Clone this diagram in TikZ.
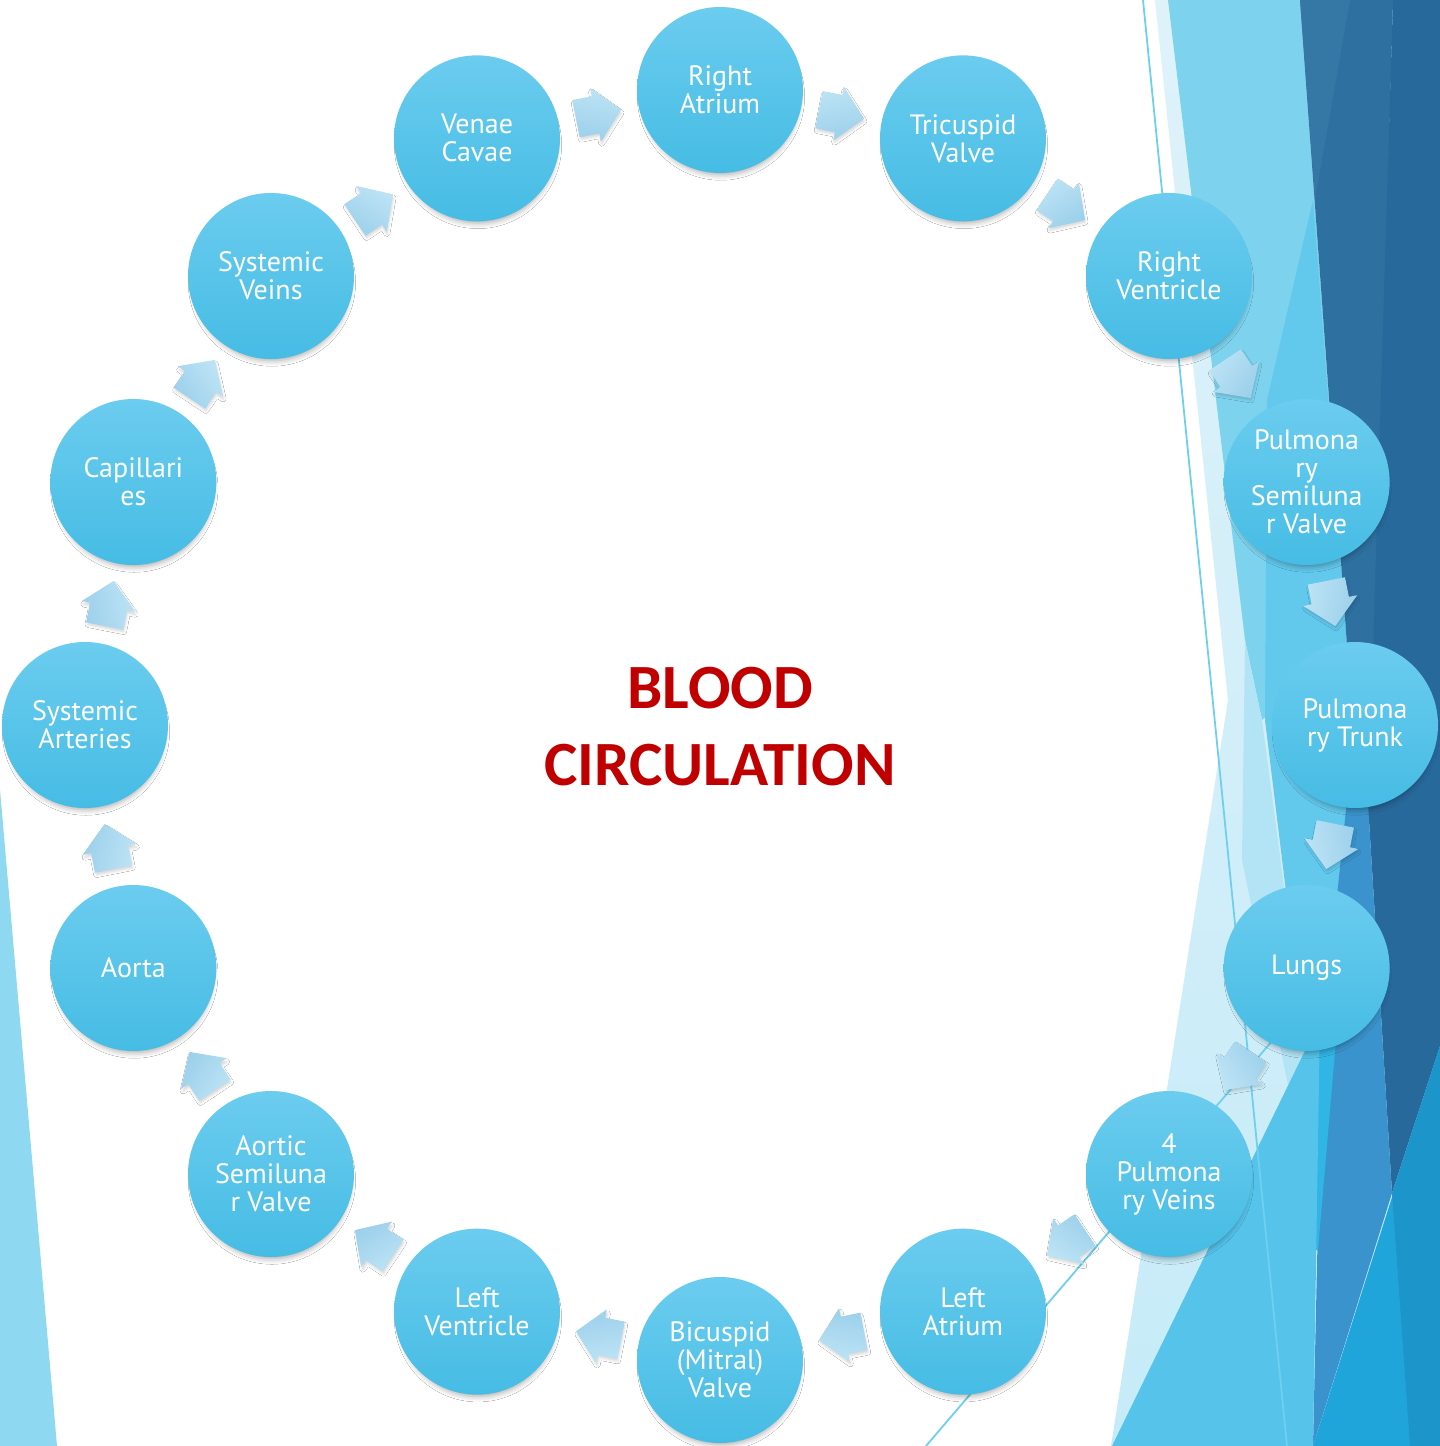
\documentclass[tikz,border=0pt]{standalone}
\usepackage{fontspec}
\setmainfont{PT Sans}
\newfontfamily\titlefont{Carlito}
\usetikzlibrary{calc,shadows.blur}

\definecolor{nodeTop}{HTML}{6BCCEF}
\definecolor{nodeBot}{HTML}{46BCE4}
\definecolor{arrTop}{HTML}{BDE3F5}
\definecolor{arrBot}{HTML}{9CD0EB}
\definecolor{titleRed}{HTML}{C00000}
\definecolor{bgVpale}{HTML}{DEF2FA}
\definecolor{bgPale}{HTML}{C6EBF8}
\definecolor{bgPaleB}{HTML}{B2E4F5}
\definecolor{bgLight}{HTML}{7DD3EE}
\definecolor{bgMid}{HTML}{62C8EC}
\definecolor{bgMidB}{HTML}{55C3EA}
\definecolor{bgCyan}{HTML}{30B5E4}
\definecolor{bgDark}{HTML}{28699C}
\definecolor{bgSteelA}{HTML}{3578A5}
\definecolor{bgSteelB}{HTML}{2E71A0}
\definecolor{bgMed}{HTML}{3A93CC}
\definecolor{bgBright}{HTML}{20A5DB}
\definecolor{bgBrightB}{HTML}{1C96CA}
\definecolor{bgLine}{HTML}{6FCFEF}
\definecolor{bgLeft}{HTML}{8FD8F2}

\begin{document}
\begin{tikzpicture}[x=0.5pt,y=-0.5pt,
  stage/.style={circle, minimum size=83pt, inner sep=0pt, draw=none,
    top color=nodeTop, bottom color=nodeBot, text=white, align=center,
    font=\fontsize{14}{14}\selectfont,
    blur shadow={shadow xshift=0.5pt, shadow yshift=-3.5pt, shadow scale=0.94, shadow blur radius=3pt, shadow opacity=35}},
  flow/.style={top color=arrTop, bottom color=arrBot, draw=none},
  heading/.style={font=\titlefont\bfseries\fontsize{31.5}{38}\selectfont, text=titleRed, anchor=base, inner sep=0pt},
  thinline/.style={draw=bgLine, line width=0.9pt}
]
\useasboundingbox (0,0) rectangle (1440,1446);
\fill[white] (0,0) rectangle (1440,1446);

% ---- background decoration ----
\fill[bgLeft] (0,790) -- (57,1446) -- (0,1446) -- cycle;

\shade[top color=bgVpale, middle color=bgPale, bottom color=bgPale]
  (1155,0) -- (1440,0) -- (1440,1446) -- (1111,1446) -- (1228,700) -- cycle;
\fill[bgLight] (1168,0) -- (1300,0) -- (1347,645) -- (1262,720) -- (1245,640) -- cycle;
\fill[bgPaleB] (1245,640) -- (1262,720) -- (1306,1053) -- (1288,1085) -- (1242,860) -- cycle;
\fill[bgMid] (1313,200) -- (1347,645) -- (1365,900) -- (1306,1055) -- (1265,720) -- (1267,400) -- cycle;
\fill[bgSteelB] (1300,0) -- (1393,0) -- (1373,723) -- (1365,900) -- (1347,645) -- cycle;
\fill[bgSteelA] (1300,0) -- (1350,0) -- (1315,200) -- cycle;
\fill[bgDark] (1393,0) -- (1440,0) -- (1440,1046) -- (1392,1193) -- (1363,723) -- (1373,650) -- cycle;
\fill[bgMed] (1347,800) -- (1363,723) -- (1392,1193) -- (1313,1446) -- (1322,1040) -- cycle;
\fill[bgCyan] (1313,1040) -- (1336,1040) -- (1318,1250) -- (1313,1250) -- cycle;
\fill[bgMidB] (1320,1020) -- (1313,1446) -- (1112,1446) -- cycle;
\fill[bgBright] (1313,1446) -- (1440,1046) -- (1440,1446) -- cycle;
\fill[bgBrightB] (1392,1193) -- (1440,1046) -- (1440,1446) -- (1410,1446) -- cycle;

\coordinate (la) at (1143,0);
\coordinate (lb) at (1287,1446);
\coordinate (lc) at (926,1446);
\coordinate (ld) at (1290,1020);
\draw[thinline] (la) -- (lb);
\draw[thinline] (lc) -- (ld);

% ---- stage positions ----
\foreach \i in {0,...,15}{
  \coordinate (p\i) at ({720+635*sin(\i*22.5)},{725-635*cos(\i*22.5)});
}

% ---- arrows between stages ----
\foreach \i in {0,...,15}{
  \pgfmathtruncatemacro\j{mod(\i+1,16)}
  \pgfmathsetmacro\ang{(\i+0.5)*22.5}
  \coordinate (m\i) at ($(p\i)!0.5!(p\j)$);
  \path[flow, shift={(m\i)}, rotate=-\ang, shading angle=\ang,
    blur shadow={shadow xshift=0.5pt, shadow yshift=-1.5pt, shadow scale=0.96, shadow blur radius=1.5pt, shadow opacity=18}]
    (-23,-19) -- (-3,-19) -- (-3,-27.5) -- (23,0) -- (-3,27.5) -- (-3,19) -- (-23,19) -- cycle;
}

% ---- stages ----
\foreach \i/\lbl in {
  0/{Right\\Atrium},
  1/{Tricuspid\\Valve},
  2/{Right\\Ventricle},
  3/{Pulmona\\ry\\Semiluna\\r Valve},
  4/{Pulmona\\ry Trunk},
  5/{Lungs},
  6/{4\\Pulmona\\ry Veins},
  7/{Left\\Atrium},
  8/{Bicuspid\\(Mitral)\\Valve},
  9/{Left\\Ventricle},
  10/{Aortic\\Semiluna\\r Valve},
  11/{Aorta},
  12/{Systemic\\Arteries},
  13/{Capillari\\es},
  14/{Systemic\\Veins},
  15/{Venae\\Cavae}}{
  \node[stage] (n\i) at (p\i) {\lbl};
}

% ---- title ----
\node[heading] (t1) at (720,708) {BLOOD};
\node[heading] (t2) at (720,785) {CIRCULATION};
\end{tikzpicture}
\end{document}
